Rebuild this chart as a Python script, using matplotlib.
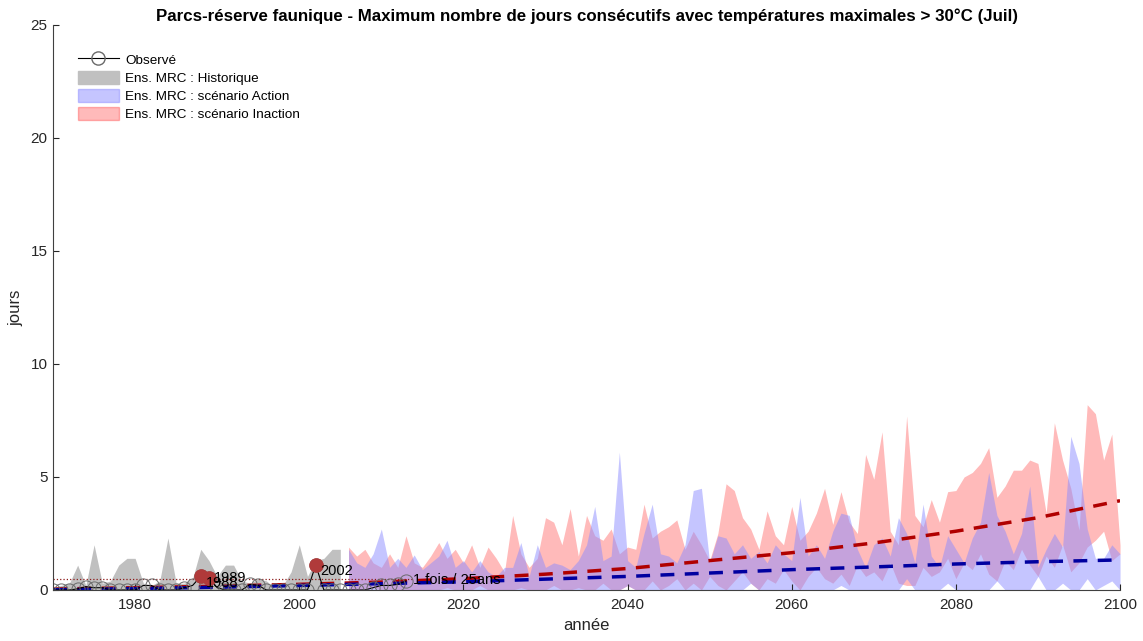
import numpy as np
import matplotlib
matplotlib.use('Agg')
import matplotlib.pyplot as plt
from matplotlib.patches import Patch
from matplotlib.lines import Line2D

plt.rcParams['font.family'] = ['Liberation Sans', 'DejaVu Sans']

# --- données ---
annees_hist = np.arange(1970, 2006)
hist_haut = [0.1, 0.2, 0.3, 1.1, 0.2, 2.0, 0.3, 0.4, 1.1, 1.4, 1.4, 0.3, 0.2, 0.4, 2.3, 0.3, 0.3, 0.5,
             1.8, 1.3, 0.6, 1.1, 1.1, 0.4, 0.3, 0.5, 0.4, 0.1, 0.2, 0.8, 2.0, 0.6, 1.3, 1.4, 1.8, 1.8]
hist_bas = [0.0] * len(hist_haut)

annees_fut = np.arange(2006, 2101)
inaction_haut = [1.9, 1.5, 1.8, 1.2, 1.0, 1.6, 1.0, 2.4, 1.2, 1.0,
                 1.5, 2.1, 1.4, 1.8, 1.2, 2.0, 1.0, 1.9, 1.4, 0.8,
                 3.3, 1.6, 1.0, 1.4, 3.2, 3.0, 2.0, 3.6, 1.5, 3.3,
                 2.4, 2.2, 2.7, 1.6, 1.9, 1.8, 3.8, 2.3, 2.6, 2.8,
                 3.1, 1.8, 2.6, 2.0, 1.3, 2.5, 4.7, 4.4, 3.2, 2.7,
                 1.8, 3.5, 2.4, 2.0, 3.7, 2.2, 2.6, 3.4, 4.5, 2.9,
                 4.35, 3.0, 2.5, 6.0, 4.9, 7.0, 2.6, 2.0, 7.7, 3.3,
                 2.8, 4.0, 3.0, 4.35, 4.4, 5.0, 5.2, 5.6, 6.3, 4.1,
                 4.6, 5.3, 5.3, 5.75, 5.6, 3.4, 7.4, 5.75, 4.5, 2.65,
                 8.2, 7.8, 5.75, 6.9, 2.0]
inaction_bas = [0, 0, 0, 0.1, 0, 0, 0, 0, 0, 0,
                0, 0, 0.1, 0, 0, 0, 0.2, 0, 0, 0,
                0, 0.1, 0, 0, 0, 0.2, 0, 0, 0.1, 0,
                0, 0.3, 0, 0, 0.2, 0, 0, 0.4, 0, 0.2,
                0.5, 0, 0.3, 0, 0.6, 0.2, 0, 0.4, 0.8, 0.3,
                0, 0.5, 0.3, 0.9, 0.4, 0, 0.6, 1.0, 0.5, 0.3,
                0.7, 0.2, 1.1, 0.6, 0.8, 0.4, 1.2, 0.3, 0.2, 0.2,
                1.0, 0.6, 0.8, 1.4, 0.5, 1.2, 0.9, 1.6, 0.7, 0.4,
                1.3, 0.9, 1.8, 1.1, 0.6, 1.5, 1.0, 2.0, 0.8, 1.2,
                1.9, 2.2, 2.6, 1.3, 1.6]
action_haut = [1.8, 1.2, 1.0, 1.6, 2.7, 1.0, 1.4, 1.0, 1.55, 0.9,
               1.2, 1.5, 2.2, 1.0, 1.3, 0.8, 1.3, 0.8, 0.6, 1.0,
               1.0, 2.1, 0.6, 2.0, 1.0, 1.2, 1.1, 0.9, 1.3, 2.0,
               3.7, 1.3, 1.5, 6.1, 1.3, 1.0, 2.5, 3.8, 1.6, 1.5,
               1.2, 2.0, 4.4, 4.5, 1.2, 2.4, 2.3, 1.6, 2.0, 1.4,
               1.7, 1.2, 2.0, 1.6, 1.3, 4.1, 1.5, 2.0, 1.4, 2.6,
               3.4, 3.3, 1.8, 1.0, 2.0, 2.3, 1.5, 3.2, 2.5, 1.2,
               3.8, 1.5, 1.0, 2.4, 1.8, 1.2, 2.3, 3.0, 5.2, 3.3,
               2.6, 1.6, 2.5, 4.6, 1.0, 1.8, 2.5, 1.9, 6.8, 5.6,
               2.7, 1.4, 1.4, 2.0, 1.6]
action_bas = [0, 0, 0, 0, 0, 0, 0, 0, 0, 0,
              0, 0, 0, 0, 0, 0, 0, 0, 0, 0,
              0, 0, 0, 0, 0, 0, 0, 0, 0, 0,
              0, 0, 0, 0, 0.2, 0, 0, 0, 0, 0,
              0, 0, 0, 0, 0, 0, 0, 0, 0, 0.3,
              0, 0, 0, 0, 0, 0, 0, 0, 0, 0,
              0.2, 0, 0, 0, 0, 0, 0, 0, 0.5, 0,
              0, 0, 0, 0.3, 0, 0, 0, 0, 0, 0.4,
              0, 0, 0, 0, 0.6, 0, 0, 0.3, 0, 0,
              0.5, 0, 0.2, 0.4, 0]

annees_tend = [1970, 1980, 1990, 2000, 2010, 2020, 2030, 2040, 2050, 2060, 2070, 2080, 2090, 2100]
tend_inaction = [0.04, 0.1, 0.17, 0.25, 0.35, 0.5, 0.7, 0.95, 1.3, 1.65, 2.08, 2.6, 3.2, 3.95]
tend_action = [0.01, 0.06, 0.12, 0.2, 0.28, 0.36, 0.48, 0.6, 0.75, 0.9, 1.02, 1.15, 1.25, 1.33]

annees_obs = np.arange(1970, 2014)
observe = [0, 0, 0, 0.05, 0.15, 0.1, 0.1, 0, 0, 0, 0, 0.2, 0.2, 0, 0, 0, 0.1, 0.2,
           0.6, 0.52, 0.1, 0, 0, 0, 0.25, 0.2, 0, 0, 0, 0, 0, 0, 1.1, 0, 0, 0, 0, 0, 0,
           0.1, 0.2, 0.2, 0.25, 0.4]
seuil_25ans = 0.5

# couleurs
gris = '#c0c0c0'
rose = (1.0, 0.0, 0.0, 0.27)
bleu = (0.55, 0.55, 1.0, 0.5)

# --- figure ---
fig = plt.figure(figsize=(11.43, 6.41), dpi=100)
ax = fig.add_axes([0.0464, 0.0796, 0.9335, 0.8814])

ax.fill_between(annees_hist, hist_bas, hist_haut, color=gris, lw=0)
ax.fill_between(annees_fut, inaction_bas, inaction_haut, color=rose, lw=0)
ax.fill_between(annees_fut, action_bas, action_haut, color=bleu, lw=0)

ax.plot(annees_tend, tend_inaction, color='#b00000', ls=(0, (4, 3)), lw=2.5)
ax.plot(annees_tend, tend_action, color='#0000a0', ls=(0, (4, 3)), lw=2.5)

ax.plot([1970, 2014], [seuil_25ans, seuil_25ans], color='#8b1a1a', ls=':', lw=0.9)
ax.text(2013.8, seuil_25ans - 0.05, '1 fois / 25ans', fontsize=10.5, va='center')

ax.plot(annees_obs, observe, color='black', lw=0.8, marker='o', ms=9.5,
        mfc='none', mec='#6a6a6a', mew=0.7)
obs = np.array(observe)
depasse = obs > seuil_25ans
ax.plot(annees_obs[depasse], obs[depasse], 'o', color='#b03a3a', ms=9.5, ls='none')
decal = {1988: -0.27, 1989: 0.0, 2002: -0.25}
for a, v in zip(annees_obs[depasse], obs[depasse]):
    ax.text(a + 0.6, v + decal.get(a, -0.25), str(a), fontsize=10.5, va='center')

ax.set_xlim(1970, 2100)
ax.set_ylim(0, 25)
ax.set_xticks([1980, 2000, 2020, 2040, 2060, 2080, 2100])
ax.set_yticks([0, 5, 10, 15, 20, 25])
ax.tick_params(direction='in', labelsize=11, colors='#262626', length=4)
ax.tick_params(axis='x', pad=6)
ax.tick_params(axis='y', pad=4)
for s in ['top', 'right']:
    ax.spines[s].set_visible(False)
for s in ['left', 'bottom']:
    ax.spines[s].set_color('#404040')
ax.set_xlabel('année', fontsize=12, color='#262626', labelpad=4)
ax.set_ylabel('jours', fontsize=12, color='#262626', labelpad=5)
ax.set_title('Parcs-réserve faunique - Maximum nombre de jours consécutifs avec températures maximales > 30°C (Juil)',
             fontsize=12.2, fontweight='bold', pad=3)

handles = [Line2D([0], [0], color='black', lw=0.8, marker='o', ms=9.5, mfc='none', mec='#6a6a6a'),
           Patch(color=gris),
           Patch(color=bleu),
           Patch(color=rose)]
labels = ['Observé', 'Ens. MRC : Historique', 'Ens. MRC : scénario Action', 'Ens. MRC : scénario Inaction']
ax.legend(handles, labels, loc='upper left', bbox_to_anchor=(0.016, 0.965), frameon=False,
          fontsize=9.7, handlelength=3.0, handleheight=1.1, labelspacing=0.3, borderaxespad=0.2,
          handletextpad=0.5)

plt.savefig('out.png', dpi=100)
